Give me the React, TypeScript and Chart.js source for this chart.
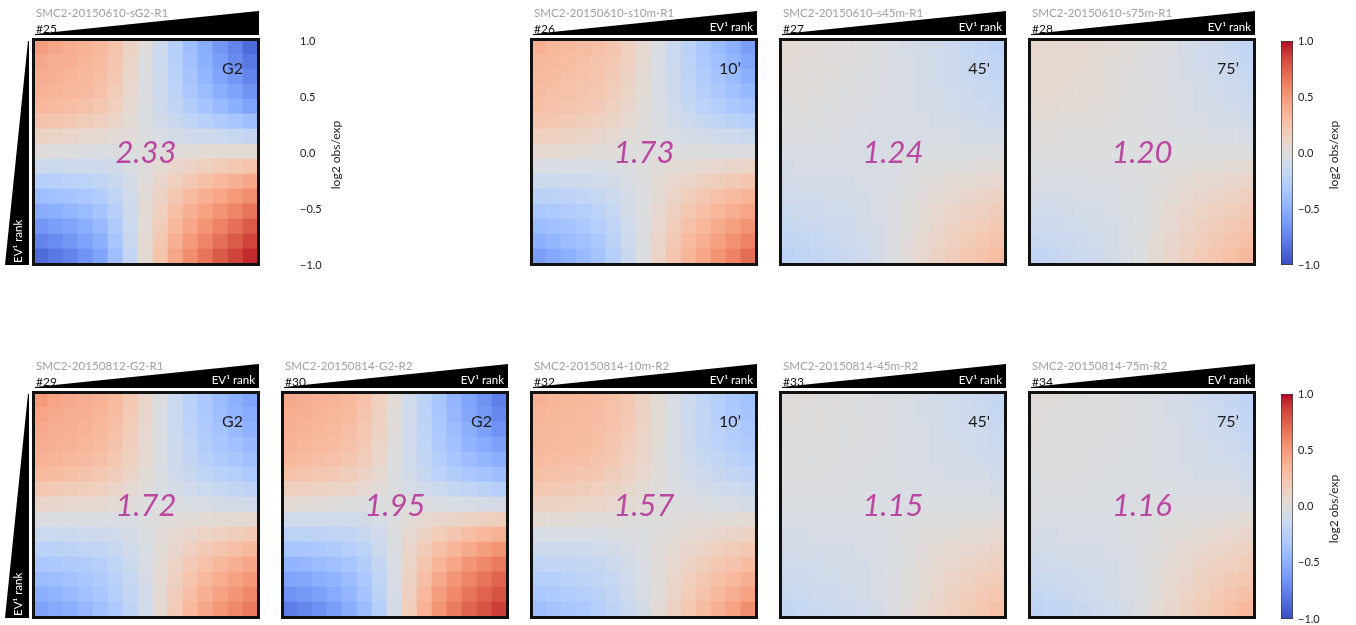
import React, { useEffect, useRef } from "react";
import { Chart, registerables } from "chart.js";

Chart.register(...registerables);

const FONT = "Lato, 'Open Sans', 'DejaVu Sans', sans-serif";

// Saddle matrices, log2 obs/exp, 15 x 15 EV1-rank bins (row 0 at the top, column 0 at the left)
const S25 = [
  [0.48, 0.43, 0.40, 0.37, 0.33, 0.26, 0.13, 0.02, -0.12, -0.26, -0.40, -0.52, -0.64, -0.74, -0.86],
  [0.43, 0.40, 0.38, 0.35, 0.31, 0.24, 0.11, 0.00, -0.13, -0.25, -0.38, -0.50, -0.60, -0.70, -0.80],
  [0.40, 0.38, 0.35, 0.33, 0.29, 0.22, 0.10, -0.01, -0.12, -0.24, -0.36, -0.46, -0.56, -0.64, -0.74],
  [0.37, 0.35, 0.33, 0.31, 0.27, 0.19, 0.08, -0.02, -0.12, -0.22, -0.33, -0.42, -0.51, -0.58, -0.66],
  [0.33, 0.31, 0.29, 0.27, 0.23, 0.16, 0.06, -0.03, -0.11, -0.19, -0.28, -0.36, -0.43, -0.50, -0.57],
  [0.26, 0.24, 0.22, 0.19, 0.16, 0.11, 0.04, -0.02, -0.08, -0.14, -0.20, -0.25, -0.30, -0.35, -0.40],
  [0.13, 0.11, 0.10, 0.08, 0.06, 0.04, 0.02, -0.01, -0.04, -0.06, -0.09, -0.11, -0.13, -0.15, -0.18],
  [0.02, 0.00, -0.01, -0.02, -0.03, -0.02, -0.01, 0.00, 0.01, 0.02, 0.03, 0.04, 0.04, 0.05, 0.05],
  [-0.12, -0.13, -0.12, -0.12, -0.11, -0.08, -0.04, 0.01, 0.05, 0.09, 0.13, 0.16, 0.19, 0.22, 0.25],
  [-0.26, -0.25, -0.24, -0.22, -0.19, -0.14, -0.06, 0.02, 0.09, 0.16, 0.22, 0.28, 0.33, 0.38, 0.43],
  [-0.40, -0.38, -0.36, -0.33, -0.28, -0.20, -0.09, 0.03, 0.13, 0.22, 0.31, 0.38, 0.44, 0.50, 0.56],
  [-0.52, -0.50, -0.46, -0.42, -0.36, -0.25, -0.11, 0.04, 0.16, 0.28, 0.38, 0.46, 0.53, 0.60, 0.67],
  [-0.64, -0.60, -0.56, -0.51, -0.43, -0.30, -0.13, 0.04, 0.19, 0.33, 0.44, 0.53, 0.61, 0.69, 0.77],
  [-0.74, -0.70, -0.64, -0.58, -0.50, -0.35, -0.15, 0.05, 0.22, 0.38, 0.50, 0.60, 0.69, 0.77, 0.85],
  [-0.86, -0.80, -0.74, -0.66, -0.57, -0.40, -0.18, 0.05, 0.25, 0.43, 0.56, 0.67, 0.77, 0.85, 0.93],
];

const S26 = [
  [0.38, 0.34, 0.32, 0.30, 0.28, 0.24, 0.16, 0.07, -0.03, -0.13, -0.23, -0.33, -0.42, -0.50, -0.60],
  [0.34, 0.32, 0.30, 0.28, 0.26, 0.22, 0.15, 0.06, -0.04, -0.13, -0.22, -0.31, -0.39, -0.46, -0.55],
  [0.32, 0.30, 0.28, 0.27, 0.25, 0.20, 0.13, 0.05, -0.04, -0.12, -0.21, -0.29, -0.36, -0.42, -0.50],
  [0.30, 0.28, 0.27, 0.25, 0.23, 0.18, 0.11, 0.04, -0.04, -0.11, -0.19, -0.26, -0.32, -0.38, -0.44],
  [0.28, 0.26, 0.25, 0.23, 0.20, 0.15, 0.09, 0.03, -0.04, -0.10, -0.16, -0.22, -0.27, -0.32, -0.37],
  [0.24, 0.22, 0.20, 0.18, 0.15, 0.11, 0.06, 0.02, -0.03, -0.08, -0.12, -0.16, -0.20, -0.23, -0.27],
  [0.16, 0.15, 0.13, 0.11, 0.09, 0.06, 0.03, 0.01, -0.02, -0.04, -0.06, -0.08, -0.10, -0.12, -0.14],
  [0.07, 0.06, 0.05, 0.04, 0.03, 0.02, 0.01, 0.00, 0.00, -0.01, -0.01, -0.01, -0.02, -0.02, -0.02],
  [-0.03, -0.04, -0.04, -0.04, -0.04, -0.03, -0.02, 0.00, 0.02, 0.04, 0.05, 0.07, 0.08, 0.10, 0.11],
  [-0.13, -0.13, -0.12, -0.11, -0.10, -0.08, -0.04, -0.01, 0.04, 0.08, 0.11, 0.15, 0.18, 0.21, 0.24],
  [-0.23, -0.22, -0.21, -0.19, -0.16, -0.12, -0.06, -0.01, 0.05, 0.11, 0.17, 0.22, 0.27, 0.31, 0.35],
  [-0.33, -0.31, -0.29, -0.26, -0.22, -0.16, -0.08, -0.01, 0.07, 0.15, 0.22, 0.28, 0.34, 0.39, 0.44],
  [-0.42, -0.39, -0.36, -0.32, -0.27, -0.20, -0.10, -0.02, 0.08, 0.18, 0.27, 0.34, 0.41, 0.47, 0.53],
  [-0.50, -0.46, -0.42, -0.38, -0.32, -0.23, -0.12, -0.02, 0.10, 0.21, 0.31, 0.39, 0.47, 0.54, 0.61],
  [-0.60, -0.55, -0.50, -0.44, -0.37, -0.27, -0.14, -0.02, 0.11, 0.24, 0.35, 0.44, 0.53, 0.61, 0.70],
];

const S27 = [
  [0.04, 0.04, 0.03, 0.02, 0.01, 0.00, -0.02, -0.04, -0.06, -0.08, -0.10, -0.13, -0.16, -0.19, -0.22],
  [0.04, 0.03, 0.03, 0.02, 0.01, 0.00, -0.02, -0.04, -0.05, -0.07, -0.09, -0.12, -0.15, -0.17, -0.20],
  [0.03, 0.03, 0.02, 0.01, 0.00, -0.01, -0.03, -0.04, -0.05, -0.07, -0.09, -0.11, -0.14, -0.16, -0.18],
  [0.02, 0.02, 0.01, 0.00, -0.01, -0.02, -0.03, -0.04, -0.05, -0.07, -0.08, -0.10, -0.12, -0.14, -0.16],
  [0.01, 0.01, 0.00, -0.01, -0.02, -0.03, -0.04, -0.04, -0.05, -0.06, -0.07, -0.09, -0.11, -0.12, -0.14],
  [0.00, 0.00, -0.01, -0.02, -0.03, -0.04, -0.04, -0.05, -0.05, -0.05, -0.06, -0.07, -0.08, -0.09, -0.11],
  [-0.02, -0.02, -0.03, -0.03, -0.04, -0.04, -0.05, -0.05, -0.05, -0.05, -0.05, -0.05, -0.06, -0.06, -0.07],
  [-0.04, -0.04, -0.04, -0.04, -0.05, -0.05, -0.05, -0.04, -0.04, -0.04, -0.03, -0.03, -0.03, -0.03, -0.03],
  [-0.06, -0.05, -0.05, -0.05, -0.05, -0.05, -0.05, -0.04, -0.02, -0.01, 0.00, 0.01, 0.01, 0.02, 0.03],
  [-0.08, -0.07, -0.07, -0.07, -0.06, -0.05, -0.05, -0.04, -0.01, 0.01, 0.02, 0.04, 0.05, 0.07, 0.08],
  [-0.10, -0.09, -0.09, -0.08, -0.07, -0.06, -0.05, -0.03, 0.00, 0.02, 0.05, 0.07, 0.09, 0.11, 0.13],
  [-0.13, -0.12, -0.11, -0.10, -0.09, -0.07, -0.05, -0.03, 0.01, 0.04, 0.07, 0.10, 0.13, 0.15, 0.18],
  [-0.16, -0.15, -0.14, -0.12, -0.11, -0.08, -0.06, -0.03, 0.01, 0.05, 0.09, 0.13, 0.16, 0.19, 0.22],
  [-0.19, -0.17, -0.16, -0.14, -0.12, -0.09, -0.06, -0.03, 0.02, 0.07, 0.11, 0.15, 0.19, 0.23, 0.26],
  [-0.22, -0.20, -0.18, -0.16, -0.14, -0.11, -0.07, -0.03, 0.03, 0.08, 0.13, 0.18, 0.22, 0.26, 0.30],
];

const S28 = [
  [0.08, 0.07, 0.07, 0.06, 0.05, 0.04, 0.02, 0.01, -0.01, -0.03, -0.06, -0.09, -0.12, -0.15, -0.19],
  [0.07, 0.07, 0.06, 0.06, 0.05, 0.03, 0.02, 0.00, -0.02, -0.04, -0.06, -0.09, -0.11, -0.14, -0.17],
  [0.07, 0.06, 0.06, 0.05, 0.04, 0.03, 0.01, 0.00, -0.02, -0.04, -0.06, -0.08, -0.10, -0.13, -0.15],
  [0.06, 0.06, 0.05, 0.04, 0.04, 0.02, 0.01, -0.01, -0.02, -0.04, -0.05, -0.07, -0.09, -0.11, -0.13],
  [0.05, 0.05, 0.04, 0.04, 0.03, 0.02, 0.00, -0.01, -0.02, -0.03, -0.05, -0.06, -0.08, -0.09, -0.11],
  [0.04, 0.03, 0.03, 0.02, 0.02, 0.01, 0.00, -0.01, -0.02, -0.03, -0.04, -0.05, -0.06, -0.07, -0.08],
  [0.02, 0.02, 0.01, 0.01, 0.00, 0.00, -0.01, -0.01, -0.02, -0.02, -0.03, -0.03, -0.04, -0.04, -0.05],
  [0.01, 0.00, 0.00, -0.01, -0.01, -0.01, -0.01, -0.01, -0.01, -0.01, -0.01, -0.01, -0.01, -0.01, -0.01],
  [-0.01, -0.02, -0.02, -0.02, -0.02, -0.02, -0.02, -0.01, 0.00, 0.01, 0.02, 0.03, 0.03, 0.04, 0.05],
  [-0.03, -0.04, -0.04, -0.04, -0.03, -0.03, -0.02, -0.01, 0.01, 0.03, 0.04, 0.06, 0.07, 0.09, 0.10],
  [-0.06, -0.06, -0.06, -0.05, -0.05, -0.04, -0.03, -0.01, 0.02, 0.04, 0.07, 0.09, 0.11, 0.13, 0.15],
  [-0.09, -0.09, -0.08, -0.07, -0.06, -0.05, -0.03, -0.01, 0.03, 0.06, 0.09, 0.12, 0.15, 0.17, 0.20],
  [-0.12, -0.11, -0.10, -0.09, -0.08, -0.06, -0.04, -0.01, 0.03, 0.07, 0.11, 0.15, 0.18, 0.21, 0.24],
  [-0.15, -0.14, -0.13, -0.11, -0.09, -0.07, -0.04, -0.01, 0.04, 0.09, 0.13, 0.17, 0.21, 0.25, 0.28],
  [-0.19, -0.17, -0.15, -0.13, -0.11, -0.08, -0.05, -0.01, 0.05, 0.10, 0.15, 0.20, 0.24, 0.28, 0.33],
];

const S29 = [
  [0.50, 0.45, 0.42, 0.40, 0.37, 0.32, 0.22, 0.10, -0.02, -0.13, -0.24, -0.33, -0.42, -0.50, -0.56],
  [0.45, 0.42, 0.40, 0.38, 0.35, 0.30, 0.20, 0.09, -0.03, -0.13, -0.23, -0.32, -0.40, -0.47, -0.53],
  [0.42, 0.40, 0.38, 0.36, 0.33, 0.28, 0.19, 0.08, -0.03, -0.13, -0.22, -0.30, -0.37, -0.43, -0.49],
  [0.40, 0.38, 0.36, 0.34, 0.31, 0.26, 0.17, 0.07, -0.03, -0.12, -0.20, -0.28, -0.34, -0.39, -0.44],
  [0.37, 0.35, 0.33, 0.31, 0.28, 0.23, 0.15, 0.06, -0.03, -0.11, -0.18, -0.25, -0.30, -0.34, -0.39],
  [0.32, 0.30, 0.28, 0.26, 0.23, 0.18, 0.11, 0.04, -0.03, -0.09, -0.15, -0.20, -0.24, -0.27, -0.31],
  [0.22, 0.20, 0.19, 0.17, 0.15, 0.11, 0.06, 0.02, -0.03, -0.07, -0.10, -0.13, -0.16, -0.18, -0.21],
  [0.10, 0.09, 0.08, 0.07, 0.06, 0.04, 0.02, 0.00, -0.01, -0.03, -0.04, -0.05, -0.07, -0.08, -0.09],
  [-0.02, -0.03, -0.03, -0.03, -0.03, -0.03, -0.03, -0.01, 0.01, 0.02, 0.03, 0.04, 0.05, 0.05, 0.06],
  [-0.13, -0.13, -0.13, -0.12, -0.11, -0.09, -0.07, -0.03, 0.02, 0.06, 0.09, 0.12, 0.15, 0.18, 0.20],
  [-0.24, -0.23, -0.22, -0.20, -0.18, -0.15, -0.10, -0.04, 0.03, 0.09, 0.15, 0.20, 0.25, 0.29, 0.33],
  [-0.33, -0.32, -0.30, -0.28, -0.25, -0.20, -0.13, -0.05, 0.04, 0.12, 0.20, 0.27, 0.33, 0.38, 0.43],
  [-0.42, -0.40, -0.37, -0.34, -0.30, -0.24, -0.16, -0.07, 0.05, 0.15, 0.25, 0.33, 0.40, 0.46, 0.51],
  [-0.50, -0.47, -0.43, -0.39, -0.34, -0.27, -0.18, -0.08, 0.05, 0.18, 0.29, 0.38, 0.46, 0.52, 0.58],
  [-0.58, -0.54, -0.50, -0.45, -0.39, -0.31, -0.21, -0.09, 0.06, 0.20, 0.33, 0.43, 0.51, 0.58, 0.65],
];

const S30 = [
  [0.42, 0.40, 0.38, 0.36, 0.33, 0.27, 0.16, 0.04, -0.09, -0.22, -0.35, -0.47, -0.57, -0.66, -0.76],
  [0.40, 0.38, 0.36, 0.34, 0.31, 0.25, 0.15, 0.03, -0.10, -0.22, -0.34, -0.45, -0.55, -0.63, -0.72],
  [0.38, 0.36, 0.34, 0.32, 0.29, 0.23, 0.14, 0.02, -0.10, -0.21, -0.32, -0.42, -0.51, -0.59, -0.66],
  [0.36, 0.34, 0.32, 0.30, 0.27, 0.21, 0.12, 0.01, -0.10, -0.20, -0.30, -0.39, -0.47, -0.53, -0.59],
  [0.33, 0.31, 0.29, 0.27, 0.24, 0.18, 0.10, 0.00, -0.09, -0.18, -0.27, -0.35, -0.41, -0.46, -0.51],
  [0.27, 0.25, 0.23, 0.21, 0.18, 0.13, 0.07, -0.01, -0.08, -0.15, -0.22, -0.28, -0.33, -0.37, -0.41],
  [0.16, 0.15, 0.14, 0.12, 0.10, 0.07, 0.03, -0.01, -0.05, -0.09, -0.13, -0.17, -0.20, -0.23, -0.26],
  [0.04, 0.03, 0.02, 0.01, 0.00, -0.01, -0.01, 0.00, -0.01, -0.02, -0.03, -0.04, -0.05, -0.06, -0.07],
  [-0.09, -0.10, -0.10, -0.10, -0.09, -0.08, -0.05, -0.01, 0.03, 0.06, 0.09, 0.11, 0.13, 0.15, 0.17],
  [-0.22, -0.22, -0.21, -0.20, -0.18, -0.15, -0.09, -0.02, 0.06, 0.13, 0.19, 0.24, 0.29, 0.33, 0.37],
  [-0.35, -0.34, -0.32, -0.30, -0.27, -0.22, -0.13, -0.03, 0.09, 0.19, 0.28, 0.35, 0.42, 0.48, 0.53],
  [-0.47, -0.45, -0.42, -0.39, -0.35, -0.28, -0.17, -0.04, 0.11, 0.24, 0.35, 0.44, 0.52, 0.58, 0.64],
  [-0.57, -0.55, -0.51, -0.47, -0.41, -0.33, -0.20, -0.05, 0.13, 0.29, 0.42, 0.52, 0.60, 0.67, 0.73],
  [-0.66, -0.63, -0.59, -0.53, -0.46, -0.37, -0.23, -0.06, 0.15, 0.33, 0.48, 0.58, 0.67, 0.74, 0.80],
  [-0.78, -0.73, -0.67, -0.60, -0.52, -0.42, -0.26, -0.07, 0.17, 0.37, 0.53, 0.64, 0.73, 0.80, 0.87],
];

const S32 = [
  [0.38, 0.35, 0.34, 0.33, 0.31, 0.28, 0.22, 0.14, 0.05, -0.04, -0.12, -0.20, -0.27, -0.33, -0.38],
  [0.35, 0.34, 0.33, 0.32, 0.30, 0.27, 0.21, 0.13, 0.04, -0.04, -0.12, -0.19, -0.26, -0.31, -0.36],
  [0.34, 0.33, 0.32, 0.31, 0.29, 0.26, 0.20, 0.12, 0.04, -0.04, -0.11, -0.18, -0.24, -0.29, -0.33],
  [0.33, 0.32, 0.31, 0.30, 0.28, 0.24, 0.18, 0.11, 0.03, -0.04, -0.11, -0.17, -0.22, -0.26, -0.30],
  [0.31, 0.30, 0.29, 0.28, 0.26, 0.22, 0.16, 0.10, 0.02, -0.04, -0.10, -0.15, -0.19, -0.23, -0.26],
  [0.28, 0.27, 0.26, 0.24, 0.22, 0.18, 0.13, 0.08, 0.02, -0.03, -0.08, -0.12, -0.15, -0.18, -0.21],
  [0.22, 0.21, 0.20, 0.18, 0.16, 0.13, 0.09, 0.05, 0.01, -0.02, -0.05, -0.08, -0.10, -0.12, -0.14],
  [0.14, 0.13, 0.12, 0.11, 0.10, 0.08, 0.05, 0.03, 0.01, -0.01, -0.02, -0.03, -0.04, -0.05, -0.06],
  [0.05, 0.04, 0.04, 0.03, 0.02, 0.02, 0.01, 0.01, 0.01, 0.01, 0.02, 0.02, 0.03, 0.03, 0.04],
  [-0.04, -0.04, -0.04, -0.04, -0.04, -0.03, -0.02, -0.01, 0.01, 0.03, 0.05, 0.07, 0.09, 0.11, 0.13],
  [-0.12, -0.12, -0.11, -0.11, -0.10, -0.08, -0.05, -0.02, 0.02, 0.05, 0.09, 0.12, 0.16, 0.19, 0.22],
  [-0.20, -0.19, -0.18, -0.17, -0.15, -0.12, -0.08, -0.03, 0.02, 0.07, 0.12, 0.17, 0.22, 0.26, 0.30],
  [-0.27, -0.26, -0.24, -0.22, -0.19, -0.15, -0.10, -0.04, 0.03, 0.09, 0.16, 0.22, 0.28, 0.33, 0.38],
  [-0.33, -0.31, -0.29, -0.26, -0.23, -0.18, -0.12, -0.05, 0.03, 0.11, 0.19, 0.26, 0.33, 0.40, 0.46],
  [-0.40, -0.37, -0.34, -0.31, -0.27, -0.21, -0.14, -0.06, 0.04, 0.13, 0.22, 0.30, 0.38, 0.46, 0.56],
];

const S33 = [
  [0.02, 0.02, 0.01, 0.01, 0.00, -0.01, -0.02, -0.03, -0.04, -0.06, -0.08, -0.10, -0.12, -0.14, -0.17],
  [0.02, 0.01, 0.01, 0.00, 0.00, -0.01, -0.02, -0.03, -0.04, -0.06, -0.07, -0.09, -0.11, -0.13, -0.16],
  [0.01, 0.01, 0.01, 0.00, -0.01, -0.01, -0.02, -0.03, -0.04, -0.05, -0.07, -0.09, -0.10, -0.12, -0.14],
  [0.01, 0.00, 0.00, 0.00, -0.01, -0.02, -0.02, -0.03, -0.04, -0.05, -0.06, -0.08, -0.09, -0.11, -0.13],
  [0.00, 0.00, -0.01, -0.01, -0.02, -0.02, -0.03, -0.03, -0.04, -0.05, -0.06, -0.07, -0.08, -0.09, -0.11],
  [-0.01, -0.01, -0.01, -0.02, -0.02, -0.03, -0.03, -0.03, -0.04, -0.04, -0.05, -0.06, -0.07, -0.07, -0.09],
  [-0.02, -0.02, -0.02, -0.02, -0.03, -0.03, -0.03, -0.03, -0.03, -0.04, -0.04, -0.04, -0.05, -0.05, -0.06],
  [-0.03, -0.03, -0.03, -0.03, -0.03, -0.03, -0.03, -0.03, -0.03, -0.03, -0.03, -0.03, -0.03, -0.03, -0.03],
  [-0.04, -0.04, -0.04, -0.04, -0.04, -0.04, -0.03, -0.03, -0.02, -0.01, 0.00, 0.00, 0.01, 0.01, 0.02],
  [-0.06, -0.06, -0.05, -0.05, -0.05, -0.04, -0.04, -0.03, -0.01, 0.01, 0.02, 0.03, 0.04, 0.05, 0.07],
  [-0.08, -0.07, -0.07, -0.06, -0.06, -0.05, -0.04, -0.03, 0.00, 0.02, 0.04, 0.06, 0.08, 0.09, 0.11],
  [-0.10, -0.09, -0.09, -0.08, -0.07, -0.06, -0.04, -0.03, 0.00, 0.03, 0.06, 0.08, 0.11, 0.13, 0.15],
  [-0.12, -0.11, -0.10, -0.09, -0.08, -0.07, -0.05, -0.03, 0.01, 0.04, 0.08, 0.11, 0.14, 0.17, 0.19],
  [-0.14, -0.13, -0.12, -0.11, -0.09, -0.07, -0.05, -0.03, 0.01, 0.05, 0.09, 0.13, 0.17, 0.20, 0.23],
  [-0.17, -0.16, -0.14, -0.13, -0.11, -0.09, -0.06, -0.03, 0.02, 0.07, 0.11, 0.15, 0.19, 0.23, 0.27],
];

const S34 = [
  [0.02, 0.02, 0.01, 0.01, 0.00, -0.01, -0.02, -0.03, -0.04, -0.06, -0.08, -0.11, -0.14, -0.17, -0.21],
  [0.02, 0.01, 0.01, 0.00, 0.00, -0.01, -0.02, -0.03, -0.04, -0.06, -0.08, -0.10, -0.13, -0.16, -0.19],
  [0.01, 0.01, 0.00, 0.00, -0.01, -0.01, -0.02, -0.03, -0.04, -0.05, -0.07, -0.09, -0.12, -0.14, -0.17],
  [0.01, 0.00, 0.00, -0.01, -0.01, -0.02, -0.02, -0.03, -0.04, -0.05, -0.07, -0.08, -0.10, -0.12, -0.15],
  [0.00, 0.00, -0.01, -0.01, -0.02, -0.02, -0.03, -0.03, -0.04, -0.05, -0.06, -0.07, -0.09, -0.10, -0.12],
  [-0.01, -0.01, -0.01, -0.02, -0.02, -0.03, -0.03, -0.03, -0.04, -0.04, -0.05, -0.06, -0.07, -0.08, -0.09],
  [-0.02, -0.02, -0.02, -0.02, -0.03, -0.03, -0.03, -0.03, -0.03, -0.03, -0.04, -0.04, -0.05, -0.05, -0.06],
  [-0.03, -0.03, -0.03, -0.03, -0.03, -0.03, -0.03, -0.02, -0.02, -0.02, -0.02, -0.02, -0.02, -0.02, -0.02],
  [-0.04, -0.04, -0.04, -0.04, -0.04, -0.04, -0.03, -0.02, -0.01, 0.00, 0.01, 0.01, 0.02, 0.03, 0.04],
  [-0.06, -0.06, -0.05, -0.05, -0.05, -0.04, -0.03, -0.02, 0.00, 0.02, 0.03, 0.05, 0.06, 0.08, 0.09],
  [-0.08, -0.08, -0.07, -0.07, -0.06, -0.05, -0.04, -0.02, 0.01, 0.03, 0.06, 0.08, 0.10, 0.12, 0.14],
  [-0.11, -0.10, -0.09, -0.08, -0.07, -0.06, -0.04, -0.02, 0.01, 0.05, 0.08, 0.11, 0.14, 0.16, 0.19],
  [-0.14, -0.13, -0.12, -0.10, -0.09, -0.07, -0.05, -0.02, 0.02, 0.06, 0.10, 0.14, 0.17, 0.20, 0.23],
  [-0.17, -0.16, -0.14, -0.12, -0.10, -0.08, -0.05, -0.02, 0.03, 0.08, 0.12, 0.16, 0.20, 0.24, 0.28],
  [-0.21, -0.19, -0.17, -0.15, -0.12, -0.09, -0.06, -0.02, 0.04, 0.09, 0.14, 0.19, 0.23, 0.28, 0.33],
];

// Panel annotations
const PANEL_IDS = ["#25", "#26", "#27", "#28", "#29", "#30", "#32", "#33", "#34"];
const PANEL_NAMES = [
  "SMC2-20150610-sG2-R1",
  "SMC2-20150610-s10m-R1",
  "SMC2-20150610-s45m-R1",
  "SMC2-20150610-s75m-R1",
  "SMC2-20150812-G2-R1",
  "SMC2-20150814-G2-R2",
  "SMC2-20150814-10m-R2",
  "SMC2-20150814-45m-R2",
  "SMC2-20150814-75m-R2",
];
const PANEL_TIMES = ["G2", "10’", "45'", "75’", "G2", "G2", "10’", "45'", "75’"];
const PANEL_STRENGTHS = ["2.33", "1.73", "1.24", "1.20", "1.72", "1.95", "1.57", "1.15", "1.16"];
const PANEL_MATRICES = [S25, S26, S27, S28, S29, S30, S32, S33, S34];
// grid slot of each panel: [row, column]
const PANEL_SLOTS = [[0, 0], [0, 2], [0, 3], [0, 4], [1, 0], [1, 1], [1, 2], [1, 3], [1, 4]];

const COLOR_MIN = -1;
const COLOR_MAX = 1;
const COLORBAR_STEP = 0.5;
const COLORBAR_TITLE = "log2 obs/exp";
const AXIS_LABEL = "EV¹ rank";

// coolwarm colormap stops
const COOLWARM = [
  [59, 76, 192], [68, 90, 204], [77, 104, 215], [87, 117, 225], [98, 130, 234], [108, 142, 241],
  [119, 154, 247], [130, 165, 251], [141, 176, 254], [152, 185, 255], [163, 194, 255], [174, 201, 253],
  [184, 208, 249], [194, 213, 244], [204, 217, 238], [213, 219, 230], [221, 221, 221], [229, 216, 209],
  [236, 211, 197], [241, 204, 185], [245, 196, 173], [247, 187, 160], [247, 177, 148], [247, 166, 135],
  [244, 154, 123], [241, 141, 111], [236, 127, 99], [229, 112, 88], [222, 96, 77], [213, 80, 66],
  [203, 62, 56], [192, 40, 47], [180, 4, 38],
];

function coolwarm(v: number): string {
  const t = Math.min(1, Math.max(0, (v - COLOR_MIN) / (COLOR_MAX - COLOR_MIN)));
  const pos = t * (COOLWARM.length - 1);
  const i = Math.min(COOLWARM.length - 2, Math.floor(pos));
  const f = pos - i;
  const a = COOLWARM[i];
  const b = COOLWARM[i + 1];
  const c = a.map((ch, k) => Math.round(ch + (b[k] - ch) * f));
  return `rgb(${c[0]},${c[1]},${c[2]})`;
}

// layout
const COL_X = [32, 281, 530, 779, 1028];
const ROW_Y = [38, 391];
const FRAME = 228;
const CELL_AREA = 225;
const MAGENTA = "rgb(186,72,160)";

function Heatmap({ matrix, x, y }: { matrix: number[][]; x: number; y: number }) {
  const ref = useRef<HTMLCanvasElement>(null);
  useEffect(() => {
    const canvas = ref.current;
    if (!canvas) return;
    const n = matrix.length;
    const labels = matrix[0].map((_, j) => String(j + 1));
    // stacked bars: first dataset sits at the bottom, so rows are fed bottom-up
    const datasets = matrix
      .map((row, i) => ({
        label: `row ${i + 1}`,
        data: row.map(() => 1),
        backgroundColor: row.map((v) => coolwarm(v)),
        borderWidth: 0,
        barPercentage: 1,
        categoryPercentage: 1,
        stack: "cells",
      }))
      .reverse();
    const chart = new Chart(canvas, {
      type: "bar",
      data: { labels, datasets },
      options: {
        responsive: false,
        animation: false,
        events: [],
        layout: { padding: 0 },
        plugins: { legend: { display: false }, tooltip: { enabled: false } },
        scales: {
          x: { display: false, stacked: true },
          y: { display: false, stacked: true, min: 0, max: n },
        },
      },
    });
    return () => chart.destroy();
  }, [matrix]);
  return (
    <canvas
      ref={ref}
      width={CELL_AREA}
      height={CELL_AREA}
      style={{ position: "absolute", left: x, top: y, width: CELL_AREA, height: CELL_AREA }}
    />
  );
}

const CB_AXIS_W = 46;
const CB_PAD = 12;

function Colorbar({ x, y, height, showBar }: { x: number; y: number; height: number; showBar: boolean }) {
  const ref = useRef<HTMLCanvasElement>(null);
  const barW = 12;
  useEffect(() => {
    const canvas = ref.current;
    if (!canvas) return;
    const chart = new Chart(canvas, {
      type: "bar",
      data: {
        labels: ["scale"],
        datasets: [
          {
            data: [[COLOR_MIN, COLOR_MAX]] as any,
            backgroundColor: (ctx: any) => {
              if (!showBar) return "rgba(0,0,0,0)";
              const area = ctx.chart.chartArea;
              if (!area) return "rgba(0,0,0,0)";
              const g = ctx.chart.ctx.createLinearGradient(0, area.bottom, 0, area.top);
              COOLWARM.forEach((c, i) => g.addColorStop(i / (COOLWARM.length - 1), `rgb(${c[0]},${c[1]},${c[2]})`));
              return g;
            },
            borderColor: showBar ? "#3c3c3c" : "rgba(0,0,0,0)",
            borderWidth: 1,
            borderSkipped: false,
            barPercentage: 1,
            categoryPercentage: 1,
          },
        ],
      },
      options: {
        responsive: false,
        animation: false,
        events: [],
        layout: { padding: { top: CB_PAD, bottom: CB_PAD, left: 0, right: 0 } },
        plugins: { legend: { display: false }, tooltip: { enabled: false } },
        scales: {
          x: { display: false },
          y: {
            position: "right",
            min: COLOR_MIN,
            max: COLOR_MAX,
            grid: { display: false, drawTicks: false },
            border: { display: false },
            ticks: {
              stepSize: COLORBAR_STEP,
              padding: 5,
              color: "#222",
              font: { family: FONT, size: 11 },
              callback: (v: any) => (Number(v) < 0 ? "−" : "") + Math.abs(Number(v)).toFixed(1),
            },
            afterFit: (scale: any) => {
              scale.width = CB_AXIS_W;
            },
          },
        },
      },
    });
    return () => chart.destroy();
  }, [showBar, height]);
  const w = barW + CB_AXIS_W;
  const h = height + CB_PAD * 2;
  return (
    <>
      <canvas
        ref={ref}
        width={w}
        height={h}
        style={{ position: "absolute", left: x, top: y - CB_PAD, width: w, height: h }}
      />
      <div
        style={{
          position: "absolute",
          left: x + 53 - 60,
          top: y + height / 2 - 7 + 2,
          width: 120,
          height: 14,
          lineHeight: "14px",
          fontSize: 12,
          color: "#222",
          textAlign: "center",
          whiteSpace: "nowrap",
          transform: "rotate(-90deg)",
        }}
      >
        {COLORBAR_TITLE}
      </div>
    </>
  );
}

function Panel({ index }: { index: number }) {
  const [r, c] = PANEL_SLOTS[index];
  const L = COL_X[c];
  const T = ROW_Y[r];
  const firstCol = c === 0;
  const showTopLabel = !(r === 0 && c === 0);
  return (
    <>
      <svg
        width={1356}
        height={625}
        style={{ position: "absolute", left: 0, top: 0, pointerEvents: "none" }}
      >
        <polygon
          points={`${L + 3},${T - 3} ${L + 3},${T - 4} ${L + FRAME - 1},${T - 27} ${L + FRAME - 1},${T - 3}`}
          fill="#000"
        />
        {firstCol && (
          <polygon
            points={`${L - 3},${T + 3} ${L - 4},${T + 3} ${L - 27},${T + FRAME - 1} ${L - 3},${T + FRAME - 1}`}
            fill="#000"
          />
        )}
      </svg>
      <Heatmap matrix={PANEL_MATRICES[index]} x={L + 1} y={T + 1} />
      <div
        style={{
          position: "absolute",
          left: L,
          top: T,
          width: FRAME,
          height: FRAME,
          boxSizing: "border-box",
          border: "3px solid #111",
        }}
      />
      <div style={{ position: "absolute", left: L + 4, top: T - 31, fontSize: 11.6, lineHeight: "12px", color: "#a2a2a2", whiteSpace: "nowrap" }}>
        {PANEL_NAMES[index]}
      </div>
      <div style={{ position: "absolute", left: L + 4, top: T - 15, fontSize: 12, lineHeight: "12px", color: "#111", whiteSpace: "nowrap" }}>
        {PANEL_IDS[index]}
      </div>
      {showTopLabel && (
        <div
          style={{
            position: "absolute",
            left: L,
            top: T - 17.5,
            width: FRAME - 5,
            textAlign: "right",
            fontSize: 11.5,
            lineHeight: "12px",
            color: "#fff",
            whiteSpace: "nowrap",
          }}
        >
          {AXIS_LABEL}
        </div>
      )}
      {firstCol && (
        <div
          style={{
            position: "absolute",
            left: L - 14 - 30,
            top: T + 195 - 6,
            width: 60,
            height: 12,
            lineHeight: "12px",
            fontSize: 11.5,
            color: "#fff",
            textAlign: "left",
            whiteSpace: "nowrap",
            transform: "rotate(-90deg)",
          }}
        >
          {AXIS_LABEL}
        </div>
      )}
      <div
        style={{
          position: "absolute",
          left: L,
          top: T + 22,
          width: 211,
          textAlign: "right",
          fontSize: 16,
          lineHeight: "16px",
          color: "#1a1a1a",
          whiteSpace: "nowrap",
        }}
      >
        {PANEL_TIMES[index]}
      </div>
      <div
        style={{
          position: "absolute",
          left: L,
          top: T + 98,
          width: FRAME,
          textAlign: "center",
          fontSize: 31,
          lineHeight: "31px",
          fontStyle: "italic",
          color: MAGENTA,
          whiteSpace: "nowrap",
        }}
      >
        {PANEL_STRENGTHS[index]}
      </div>
    </>
  );
}

export default function App() {
  return (
    <div
      style={{
        position: "absolute",
        left: 0,
        top: 0,
        width: 1356,
        height: 625,
        background: "#fff",
        fontFamily: FONT,
        overflow: "hidden",
      }}
    >
      {PANEL_IDS.map((_, i) => (
        <Panel key={i} index={i} />
      ))}
      <Colorbar x={283} y={41} height={224} showBar={false} />
      <Colorbar x={1281} y={41} height={224} showBar={true} />
      <Colorbar x={1281} y={394} height={225} showBar={true} />
    </div>
  );
}
